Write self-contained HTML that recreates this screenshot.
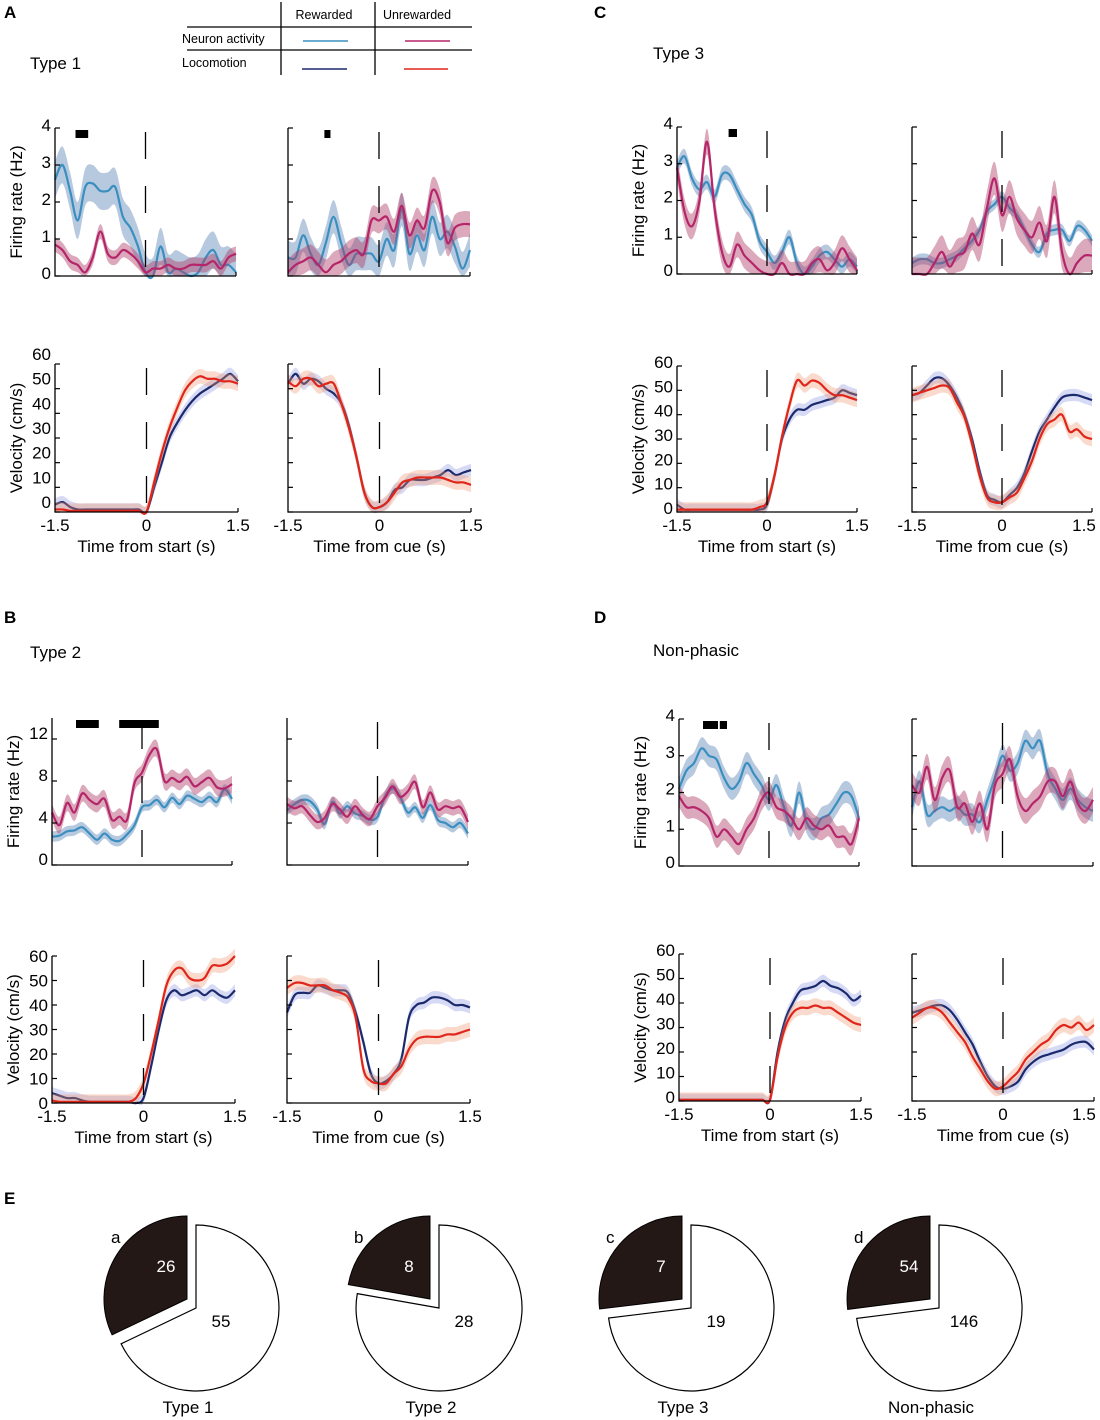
<!DOCTYPE html>
<html><head><meta charset="utf-8">
<style>
html,body{margin:0;padding:0;background:#fff;}
svg{display:block;font-family:"Liberation Sans",Arial,sans-serif;}
</style></head>
<body>
<svg id="fig" width="1100" height="1420" viewBox="0 0 1100 1420" xmlns="http://www.w3.org/2000/svg">
<g font-size="12.5" fill="#000">
<line x1="187" y1="27" x2="472" y2="27" stroke="#000" stroke-width="1.3"/>
<line x1="187" y1="50" x2="472" y2="50" stroke="#000" stroke-width="1.3"/>
<line x1="281" y1="2" x2="281" y2="75" stroke="#000" stroke-width="1.3"/>
<line x1="375" y1="2" x2="375" y2="75" stroke="#000" stroke-width="1.3"/>
<text x="324" y="19" text-anchor="middle">Rewarded</text>
<text x="417" y="19" text-anchor="middle">Unrewarded</text>
<text x="182" y="43">Neuron activity</text>
<text x="182" y="67">Locomotion</text>
<line x1="303" y1="41" x2="348" y2="41" stroke="#3a8fc0" stroke-width="1.5"/>
<line x1="405" y1="41" x2="450" y2="41" stroke="#b5256a" stroke-width="1.5"/>
<line x1="302" y1="69" x2="347" y2="69" stroke="#1a2a6c" stroke-width="1.5"/>
<line x1="404" y1="69" x2="448" y2="69" stroke="#e0251b" stroke-width="1.5"/>
</g>
<g font-weight="bold" font-size="17">
<text x="4" y="18">A</text>
<text x="4" y="623">B</text>
<text x="594" y="18">C</text>
<text x="594" y="623">D</text>
<text x="4" y="1204">E</text>
</g>
<g font-size="17">
<text x="30" y="69">Type 1</text>
<text x="30" y="658">Type 2</text>
<text x="653" y="59">Type 3</text>
<text x="653" y="656">Non-phasic</text>
</g>
<g id="charts"></g>
<g id="pies"></g>
</svg>
<script>
const times = [-1.5,-1.375,-1.25,-1.125,-1,-0.875,-0.75,-0.625,-0.5,-0.375,-0.25,-0.125,0,0.125,0.25,0.375,0.5,0.625,0.75,0.875,1,1.125,1.25,1.375,1.5];
const xTickLabels = ["-1.5","0","1.5"];
const xTickValues = [-1.5,0,1.5];
const fr4Ticks = [0,1,2,3,4];
const fr12Ticks = [0,4,8,12];
const velTicks = [0,10,20,30,40,50,60];

const aStartBlue = [2.6,3.0,2.3,1.5,2.4,2.5,2.3,2.3,2.4,1.6,1.3,0.8,0.1,0.0,0.8,0.1,0.2,0.1,0.0,0.1,0.5,0.7,0.3,0.3,0.1];
const aStartMag  = [0.85,0.7,0.4,0.3,0.1,0.5,1.2,0.6,0.5,0.7,0.6,0.4,0.1,0.2,0.2,0.3,0.2,0.2,0.3,0.3,0.3,0.4,0.2,0.5,0.6];
const aCueBlue   = [0.5,0.5,1.1,0.6,0.3,0.9,1.6,0.9,0.3,0.6,0.6,0.6,0.4,1.0,0.7,1.8,0.6,1.1,0.7,1.6,1.0,1.2,0.8,0.2,0.7];
const aCueMag    = [0.1,0.3,0.4,0.5,0.3,0.1,0.3,0.4,0.6,0.7,0.6,1.5,1.5,1.6,1.2,1.9,1.1,1.5,1.3,2.3,2.0,0.9,1.3,1.4,1.4];
const aStartNavy = [3,4,2,1,1,1,1,1,1,1,1,1,0,10,20,30,36,41,45,48,50,52,54,56,53];
const aStartRed  = [1,1,0.5,0.5,0.5,0.5,0.5,0.5,0.5,0.5,0.5,0.5,0,12,24,34,42,49,53,55,54,54,53,53,52];
const aCueNavy   = [52,56,52,54,53,50,48,44,35,22,8,2,2,4,9,10,13,13,13,14,15,17,15,16,17];
const aCueRed    = [53,51,54,54,51,52,52,44,34,22,8,2,2,4,8,12,13,14,14,14,14,13,12,12,11];
const bStartBlue = [2.7,2.8,3.2,3.3,3.6,3.0,2.4,3.0,2.4,2.3,2.9,3.8,5.5,5.7,6.2,5.5,6.4,5.8,6.6,6.3,6.0,6.5,6.0,7.2,6.3];
const bStartMag  = [5.0,3.8,5.9,5.0,6.8,6.2,5.8,6.3,4.3,4.6,4.3,7.8,8.8,10.5,11.0,8.0,8.3,7.9,8.4,7.5,7.9,8.3,7.4,7.3,7.7];
const bCueBlue   = [5.2,5.8,6.2,6.1,5.3,3.9,6.0,4.9,5.6,4.9,4.7,4.3,4.6,6.5,7.3,6.5,5.0,5.5,4.5,5.7,4.3,4.0,3.6,4.0,3.0];
const bCueMag    = [5.8,5.4,5.6,4.8,4.1,4.5,5.8,5.3,4.6,5.6,4.8,4.4,5.6,6.4,7.5,6.5,7.0,7.9,5.5,6.9,5.3,5.6,5.4,5.5,4.1];
const bStartNavy = [4,3,2,2,1,0.5,0.5,0.5,0.5,0.5,0.5,0,2,15,30,42,46,44,45,46,44,46,44,43,46];
const bStartRed  = [1,0.5,0.5,0.5,0.5,0.5,0.5,0.5,0.5,0.5,0.5,2,8,20,34,48,54,55,51,50,51,56,56,57,60];
const bCueNavy   = [37,44,45,45,48,47,46,46,45,37,25,12,8,9,12,18,35,40,41,43,43,42,40,40,39];
const bCueRed    = [47,49,49,48,48,48,46,45,43,35,14,9,8,8,12,15,22,26,27,27,27,28,28,29,30];
const cStartBlue = [2.9,3.2,2.6,2.3,2.5,2.1,2.7,2.7,2.3,1.9,1.6,0.9,0.6,0.3,0.6,1.0,0.3,0.0,0.2,0.5,0.6,0.4,0.2,0.4,0.2];
const cStartMag  = [2.9,1.7,1.3,2.0,3.6,1.8,0.6,0.2,0.8,0.5,0.3,0.1,0,0,0.3,0,0,0,0.3,0.4,0.1,0.3,0.7,0.4,0.1];
const cCueBlue   = [0.3,0.4,0.4,0.3,0.3,0.4,0.5,0.7,0.9,1.2,1.7,1.9,2.1,1.8,1.6,1.2,0.8,0.6,1.1,1.2,1.2,0.9,1.3,1.2,0.9];
const cCueMag    = [0,0,0,0.3,0.6,0.2,0.5,0.6,1.1,0.8,1.8,2.6,1.6,2.1,1.5,1.2,1.0,1.4,0.9,2.1,0.6,0.0,0.3,0.5,0.5];
const cStartNavy = [3,1,1,1,1,1,1,1,1,1,1,1,3,15,30,38,42,42,44,45,46,47,50,49,48];
const cStartRed  = [1,1,1,1,1,1,1,1,1,1,1,2,4,15,31,44,54,52,54,53,50,48,48,47,46];
const cCueNavy   = [48,49,52,55,55,52,47,40,30,17,7,5,4,7,10,16,25,33,38,43,47,48,48,47,46];
const cCueRed    = [48,49,50,51,52,51,45,39,28,15,6,4,4,6,8,14,21,30,36,38,40,33,34,31,30];
const dStartBlue = [2.1,2.6,2.8,3.2,3.0,2.9,2.4,2.1,2.3,2.8,2.5,2.2,1.8,2.2,1.6,1.1,2.0,1.2,1.0,1.3,1.4,1.7,2.0,1.9,1.3];
const dStartMag  = [1.9,1.6,1.6,1.5,1.3,0.8,1.0,0.8,0.6,1.0,1.3,1.8,2.0,1.6,1.5,1.3,1.0,1.3,1.1,1.0,1.1,0.8,0.8,0.6,1.3];
const dCueBlue   = [1.6,2.3,1.4,1.5,1.6,1.5,1.6,1.4,1.4,1.2,1.8,2.4,3.0,2.6,2.8,3.4,3.2,3.4,2.5,2.1,1.8,2.1,1.8,1.6,1.5];
const dCueMag    = [2.2,2.0,2.7,1.8,2.4,2.6,1.6,1.7,1.2,1.7,1.0,2.2,2.5,2.9,1.9,1.5,1.7,1.9,2.3,2.3,1.9,2.3,1.7,1.5,1.8];
const dStartNavy = [0.5,0.5,0.5,0.5,0.5,0.5,0.5,0.5,0.5,0.5,0.5,0.5,0.5,20,33,40,45,46,47,49,47,46,44,41,43];
const dStartRed  = [0.5,0.5,0.5,0.5,0.5,0.5,0.5,0.5,0.5,0.5,0.5,0.5,0.5,18,30,36,38,38,39,38,38,36,34,32,31];
const dCueNavy   = [36,37,38,39,39,37,33,28,23,16,10,6,5,6,8,13,16,18,19,20,21,23,24,24,21];
const dCueRed    = [34,36,38,38,36,32,28,24,18,13,8,5,6,9,12,17,20,23,25,29,31,30,32,29,31];

const pieLetters = ["a","b","c","d"];
const pieNames = ["Type 1","Type 2","Type 3","Non-phasic"];
const pieSelected = [26,8,7,54];
const pieOther = [55,28,19,146];

const NS="http://www.w3.org/2000/svg";
function mk(tag, attrs, parent){const e=document.createElementNS(NS,tag);for(const k in attrs)e.setAttribute(k,attrs[k]);parent.appendChild(e);return e;}
const charts=document.getElementById('charts');

const COL={blue:["#3a8fc0","rgba(95,135,185,0.45)"],mag:["#b5256a","rgba(175,65,105,0.45)"],navy:["#1a2a6c","rgba(140,150,225,0.35)"],red:["#e0251b","rgba(240,150,110,0.35)"]};

function smoothPath(pts){
  let d="M"+pts[0][0].toFixed(1)+","+pts[0][1].toFixed(1);
  for(let i=0;i<pts.length-1;i++){
    const p0=pts[Math.max(0,i-1)],p1=pts[i],p2=pts[i+1],p3=pts[Math.min(pts.length-1,i+2)];
    const c1=[p1[0]+(p2[0]-p0[0])/6,p1[1]+(p2[1]-p0[1])/6],c2=[p2[0]-(p3[0]-p1[0])/6,p2[1]-(p3[1]-p1[1])/6];
    d+="C"+c1[0].toFixed(1)+","+c1[1].toFixed(1)+" "+c2[0].toFixed(1)+","+c2[1].toFixed(1)+" "+p2[0].toFixed(1)+","+p2[1].toFixed(1);
  }
  return d;
}

function subplot(name,cfg,series){
  const g=mk('g',{},charts);
  
  
  const xs=t=>cfg.x0+(t+1.5)/3*(cfg.x1-cfg.x0);
  const ys=v=>cfg.yb-(v/cfg.tickTop)*(cfg.yb-cfg.ytTick);
  const top=ys(cfg.ymax);
  series.forEach(s=>{
    const up=times.map((t,i)=>[xs(t),ys(Math.max(0,s.v[i]+s.e))]);
    const lo=times.map((t,i)=>[xs(t),ys(Math.max(0,s.v[i]-s.e))]).reverse();
    const band=mk('path',{d:smoothPath(up)+"L"+smoothPath(lo).slice(1)+"Z",fill:COL[s.c][1],stroke:"none"},g);
    
    
    const ln=mk('path',{d:smoothPath(times.map((t,i)=>[xs(t),ys(s.v[i])])),fill:"none",stroke:COL[s.c][0],"stroke-width":2.2},g);
    
    
  });
  const ax=mk('path',{d:`M${cfg.x0},${top}V${cfg.yb}H${cfg.x1}`,fill:"none",stroke:"#000","stroke-width":1.3},g);
  
  
  mk('line',{x1:cfg.x1,y1:cfg.yb,x2:cfg.x1,y2:cfg.yb-4,stroke:"#000","stroke-width":1.2},g);
  cfg.ticks.forEach(v=>{
    const y=ys(v);
    mk('line',{x1:cfg.x0,y1:y,x2:cfg.x0+5,y2:y,stroke:"#000","stroke-width":1.2},g);
    if(cfg.labels){
      const t=mk('text',{x:cfg.x0-4,y:y+cfg.lOff+6,"text-anchor":"end","font-size":17},g);
      t.textContent=v;
      
      
    }
  });
  const z=mk('line',{x1:xs(0),y1:top+4,x2:xs(0),y2:cfg.yb,stroke:"#000","stroke-width":1.3,"stroke-dasharray":"27,27"},g);
  
  
  if(cfg.xlabels){
    xTickValues.forEach((v,i)=>{
      const t=mk('text',{x:Math.min(xs(v),1084),y:cfg.yb+19,"text-anchor":"middle","font-size":17},g);
      t.textContent=xTickLabels[i];
      
      
    });
    const xl=mk('text',{x:(cfg.x0+cfg.x1)/2,y:cfg.yb+40,"text-anchor":"middle","font-size":17},g);
    xl.textContent=cfg.xlabel;
    
    
  }
  if(cfg.ytitle){
    const cy=(top+cfg.yb)/2;
    const yt=mk('text',{x:0,y:0,transform:`translate(${cfg.x0-33},${cy}) rotate(-90)`,"text-anchor":"middle","font-size":17},g);
    yt.textContent=cfg.ytitle;
    
    
  }
  (cfg.sig||[]).forEach(b=>{
    const r=mk('rect',{x:xs(b[0]),y:top+2,width:xs(b[1])-xs(b[0]),height:8,fill:"#000"},g);
    
    
  });
}

function panel(p,geo,data,sig){
  const [fs,fc,vs,vc]=geo;
  subplot(p+'-firing-start',{x0:fs[0],x1:fs[1],yb:fs[2],ytTick:fs[3],tickTop:fs[4],ymax:fs[5],ticks:fs[6],labels:true,lOff:fs[7],ytitle:"Firing rate (Hz)",sig:sig[0]},[{n:'rewarded',c:'blue',v:data[0],e:data[8][0]},{n:'unrewarded',c:'mag',v:data[1],e:data[8][1]}]);
  subplot(p+'-firing-cue',{x0:fc[0],x1:fc[1],yb:fs[2],ytTick:fs[3],tickTop:fs[4],ymax:fs[5],ticks:fs[6],labels:false,lOff:0,sig:sig[1]},[{n:'rewarded',c:'blue',v:data[2],e:data[8][2]},{n:'unrewarded',c:'mag',v:data[3],e:data[8][3]}]);
  subplot(p+'-velocity-start',{x0:vs[0],x1:vs[1],yb:vs[2],ytTick:vs[3],tickTop:60,ymax:60,ticks:velTicks,labels:true,lOff:vs[4],ytitle:"Velocity (cm/s)",xlabels:true,xlabel:"Time from start (s)"},[{n:'rewarded-velocity',c:'navy',v:data[4],e:2.5},{n:'unrewarded-velocity',c:'red',v:data[5],e:3}]);
  subplot(p+'-velocity-cue',{x0:vc[0],x1:vc[1],yb:vs[2],ytTick:vs[3],tickTop:60,ymax:60,ticks:velTicks,labels:false,lOff:0,xlabels:true,xlabel:"Time from cue (s)"},[{n:'rewarded-velocity',c:'navy',v:data[6],e:2.5},{n:'unrewarded-velocity',c:'red',v:data[7],e:3}]);
}

panel('type1',[[55,236,276,128,4,4,fr4Ticks,-3],[288,470],[55,238,512,364,-10],[288,471]],
  [aStartBlue,aStartMag,aCueBlue,aCueMag,aStartNavy,aStartRed,aCueNavy,aCueRed,[0.5,0.2,0.45,0.35]],[[[-1.16,-0.95]],[[-0.9,-0.8]]]);
panel('type2',[[52,232,865,739,12,14,fr12Ticks,-6],[287,468],[52,235,1103,956,0],[287,470]],
  [bStartBlue,bStartMag,bCueBlue,bCueMag,bStartNavy,bStartRed,bCueNavy,bCueRed,[0.5,0.8,0.5,0.7]],[[[-1.1,-0.72],[-0.38,0.28]],[]]);
panel('type3',[[677,857,274,127,4,4,fr4Ticks,-4],[912,1092],[677,857,512,366,-4],[912,1092]],
  [cStartBlue,cStartMag,cCueBlue,cCueMag,cStartNavy,cStartRed,cCueNavy,cCueRed,[0.2,0.35,0.15,0.45]],[[[-0.64,-0.5]],[]]);
panel('nonphasic',[[679,859,866,719,4,4,fr4Ticks,-4],[912,1093],[679,861,1101,954,-4],[912,1094]],
  [dStartBlue,dStartMag,dCueBlue,dCueMag,dStartNavy,dStartRed,dCueNavy,dCueRed,[0.3,0.3,0.3,0.35]],[[[-1.1,-0.85],[-0.82,-0.7]],[]]);

const pies=document.getElementById('pies');
const apexX=[196,439,691,939], apexY=1308, R=83;
pieLetters.forEach((L,i)=>{
  const g=mk('g',{},pies);
  
  
  const tot=pieSelected[i]+pieOther[i];
  const ang=pieSelected[i]/tot*2*Math.PI;
  const cx=apexX[i],cy=apexY;
  const ex=cx-R*Math.sin(ang),ey=cy-R*Math.cos(ang);
  const large=(2*Math.PI-ang)>Math.PI?1:0;
  const w=mk('path',{d:`M${cx},${cy}L${cx},${cy-R}A${R},${R} 0 ${large} 1 ${ex.toFixed(1)},${ey.toFixed(1)}Z`,fill:"#fff",stroke:"#000","stroke-width":1.2},g);
  
  
  const bx=cx-9,by=cy-9;
  const fx=bx-R*Math.sin(ang),fy=by-R*Math.cos(ang);
  const b=mk('path',{d:`M${bx},${by}L${bx},${by-R}A${R},${R} 0 ${ang>Math.PI?1:0} 0 ${fx.toFixed(1)},${fy.toFixed(1)}Z`,fill:"#231815",stroke:"#000","stroke-width":1},g);
  
  
  const t1=mk('text',{x:cx-30,y:1272,"text-anchor":"middle","font-size":17,fill:"#fff"},g);t1.textContent=pieSelected[i];
  
  
  const t2=mk('text',{x:cx+25,y:1327,"text-anchor":"middle","font-size":17},g);t2.textContent=pieOther[i];
  
  
  const t3=mk('text',{x:cx-85,y:1243,"font-size":17},g);t3.textContent=L;
  
  
  const t4=mk('text',{x:cx-8,y:1413,"text-anchor":"middle","font-size":17},g);t4.textContent=pieNames[i];
  
  
});
</script>
</body></html>
